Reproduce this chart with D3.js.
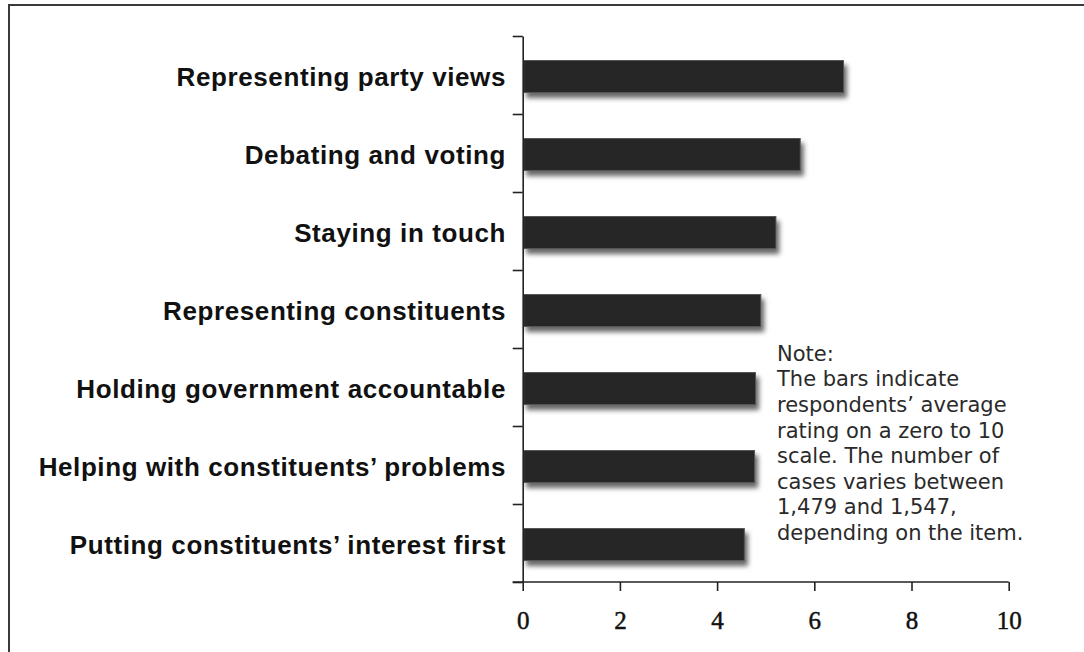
<!DOCTYPE html>
<html>
<head>
<meta charset="utf-8">
<script src="https://cdn.jsdelivr.net/npm/d3@7"></script>
<style>
  body { margin: 0; background: #fff; }
  svg { display: block; }
</style>
</head>
<body>
<script>
const categories = [
  'Representing party views',
  'Debating and voting',
  'Staying in touch',
  'Representing constituents',
  'Holding government accountable',
  'Helping with constituents\u2019 problems',
  'Putting constituents\u2019 interest first'
]
const values = [6.60, 5.71, 5.21, 4.90, 4.79, 4.77, 4.56]
const xTicks = [0, 2, 4, 6, 8, 10]
const noteLines = [
  'Note:',
  'The bars indicate',
  'respondents\u2019 average',
  'rating on a zero to 10',
  'scale. The number of',
  'cases varies between',
  '1,479 and 1,547,',
  'depending on the item.'
]

const width = 1084, height = 652
const x0 = 522.7, x1 = 1008.7
const yTop = 36, yBot = 582

const svg = d3.select('body').append('svg')
  .attr('width', width).attr('height', height)
  .attr('xmlns', 'http://www.w3.org/2000/svg')

const defs = svg.append('defs')
const f = defs.append('filter').attr('id', 'shadow')
  .attr('x', '-5%').attr('y', '-30%').attr('width', '115%').attr('height', '190%')
f.append('feDropShadow')
  .attr('dx', 3).attr('dy', 5).attr('stdDeviation', 2.5)
  .attr('flood-color', '#000').attr('flood-opacity', 0.6)

// frame
svg.append('rect')
  .attr('x', 9).attr('y', 5)
  .attr('width', width + 20).attr('height', height + 20)
  .attr('fill', 'none').attr('stroke', '#3a3a3a').attr('stroke-width', 2)

const xScale = d3.scaleLinear().domain([0, 10]).range([x0, x1])
const yScale = d3.scaleBand().domain(categories).range([yTop, yBot])
  .paddingInner(0.59).paddingOuter(0.295)
const yIdx = d3.scaleLinear().domain([0, categories.length]).range([yTop, yBot])

// bars
svg.append('g').selectAll('rect')
  .data(values)
  .enter()
  .append('rect')
  .attr('x', xScale(0) + 1)
  .attr('y', (d, i) => yScale(categories[i]) + 1.5)
  .attr('width', d => xScale(d) - xScale(0) - 1)
  .attr('height', yScale.bandwidth())
  .attr('fill', '#262626')
  .attr('stroke', '#555')
  .attr('stroke-width', 1)
  .attr('filter', 'url(#shadow)')

// y axis with ticks between categories
const yAxis = svg.append('g')
  .attr('transform', `translate(${x0},0)`)
  .call(d3.axisLeft(yIdx).tickValues(d3.range(categories.length + 1)).tickSize(10).tickSizeOuter(0).tickFormat(''))
yAxis.selectAll('path, line').attr('stroke', '#222').attr('stroke-width', 1.6)

// category labels
svg.append('g').selectAll('text')
  .data(categories)
  .enter()
  .append('text')
  .attr('x', 506)
  .attr('y', d => yScale(d) + yScale.bandwidth() / 2 + 10.5)
  .attr('text-anchor', 'end')
  .style('font-family', '"Liberation Sans", Arial, sans-serif')
  .style('font-weight', 'bold')
  .style('font-size', '26px')
  .style('letter-spacing', '0.6px')
  .attr('fill', '#111')
  .text(d => d)

// x axis
const xAxis = svg.append('g')
  .attr('transform', `translate(0,${yBot})`)
  .call(d3.axisBottom(xScale).tickValues(xTicks).tickSize(9).tickSizeOuter(0).tickPadding(20))
xAxis.select('.domain').attr('d', `M${x0 - 10},0H${x1}`)
xAxis.selectAll('path, line').attr('stroke', '#222').attr('stroke-width', 1.6)
xAxis.selectAll('text')
  .style('font-family', '"Liberation Serif", "DejaVu Serif", serif')
  .style('font-size', '25px')
  .attr('fill', '#111')
  .attr('stroke', '#111')
  .attr('stroke-width', 0.5)

// note
svg.append('text')
  .attr('x', 777)
  .attr('y', 360.7)
  .style('font-family', '"DejaVu Sans", Verdana, sans-serif')
  .style('font-size', '21px')
  .attr('fill', '#2a2a2a')
  .selectAll('tspan')
  .data(noteLines)
  .enter()
  .append('tspan')
  .attr('x', 777)
  .attr('dy', (d, i) => i === 0 ? 0 : 25.6)
  .text(d => d)
</script>
</body>
</html>
